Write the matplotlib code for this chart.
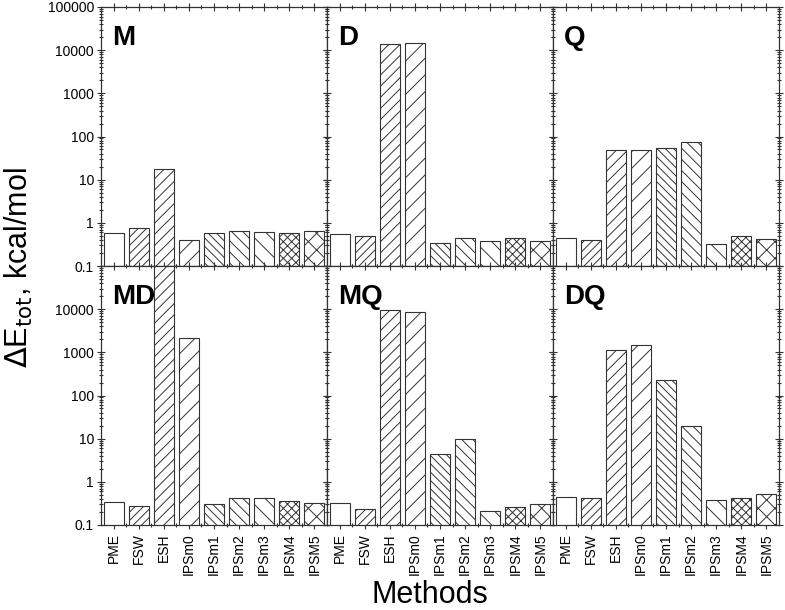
import matplotlib
matplotlib.use("Agg")
import matplotlib.pyplot as plt
from matplotlib.ticker import FixedLocator, FuncFormatter, LogLocator, NullFormatter

plt.rcParams['font.family'] = ['Liberation Sans', 'DejaVu Sans']
plt.rcParams['hatch.linewidth'] = 0.7

methods = ["PME", "FSW", "ESH", "IPSm0", "IPSm1", "IPSm2", "IPSm3", "IPSM4", "IPSM5"]
hatches = ["", "////", "///", "//", "\\\\\\\\", "\\\\\\", "\\\\", "xxxx", "xx"]

# energy deviations in kcal/mol
val_M = [0.57, 0.75, 17.7, 0.40, 0.58, 0.65, 0.60, 0.58, 0.63]
val_D = [0.54, 0.49, 13600, 14400, 0.35, 0.44, 0.38, 0.44, 0.38]
val_Q = [0.44, 0.40, 48, 48, 55, 73, 0.33, 0.49, 0.42]
val_MD = [0.35, 0.27, 150000, 2100, 0.30, 0.415, 0.415, 0.36, 0.32]
val_MQ = [0.32, 0.24, 9800, 8600, 4.4, 10, 0.21, 0.26, 0.31]
val_DQ = [0.45, 0.43, 1150, 1480, 224, 19.3, 0.38, 0.415, 0.51]

panels = [("M", val_M), ("D", val_D), ("Q", val_Q),
          ("MD", val_MD), ("MQ", val_MQ), ("DQ", val_DQ)]

fig = plt.figure(figsize=(7.85, 6.1), dpi=100)

left = 101 / 785
w = 226 / 785
h = 259 / 610
bottoms = [(610 - 266) / 610, (610 - 525) / 610]

x = list(range(len(methods)))
for i, (name, vals) in enumerate(panels):
    row, col = divmod(i, 3)
    ax = fig.add_axes([left + col * w, bottoms[row], w, h])
    ax.text(0.05, 0.93, name, transform=ax.transAxes, fontsize=20,
            fontweight="bold", va="top", ha="left", zorder=1)
    for xi, v, hc in zip(x, vals, hatches):
        ax.bar(xi, v, width=0.8, bottom=0, color="white", edgecolor="#333333",
               linewidth=0.8, hatch=hc, zorder=2)
    ax.set_yscale("log")
    ax.set_ylim(0.1, 100000)
    ax.set_xlim(-0.5, len(methods) - 0.5)

    ax.yaxis.set_major_locator(FixedLocator([0.1, 1, 10, 100, 1000, 10000, 100000]))
    ax.yaxis.set_minor_locator(LogLocator(base=10, subs=range(2, 10), numticks=20))
    ax.yaxis.set_minor_formatter(NullFormatter())
    if col == 0:
        if row == 0:
            ax.yaxis.set_major_formatter(FuncFormatter(lambda v, p: "%g" % v))
        else:
            ax.yaxis.set_major_formatter(
                FuncFormatter(lambda v, p: "" if v > 50000 else "%g" % v))
    else:
        ax.yaxis.set_major_formatter(NullFormatter())

    ax.xaxis.set_major_locator(FixedLocator(x))
    ax.xaxis.set_minor_locator(FixedLocator([xi + 0.5 for xi in x[:-1]]))
    if row == 1:
        ax.set_xticklabels(methods, rotation=90, fontsize=10)
    else:
        ax.set_xticklabels([])

    ax.tick_params(which="both", direction="inout", top=True, right=True,
                   width=0.8, color="#333333")
    ax.tick_params(which="major", length=6)
    ax.tick_params(which="minor", length=3)
    ax.tick_params(axis="y", labelsize=10, pad=2)
    ax.tick_params(axis="x", pad=3)
    for s in ax.spines.values():
        s.set_linewidth(0.9)
        s.set_color("#333333")

fig.text(0.024, (610 - 268) / 610, "$\\Delta$E$_{\\mathrm{tot}}$, kcal/mol",
         rotation=90, fontsize=22, ha="center", va="center")
fig.text(0.548, 0.012, "Methods", fontsize=22, ha="center", va="baseline")

fig.savefig("out.png", dpi=100)
